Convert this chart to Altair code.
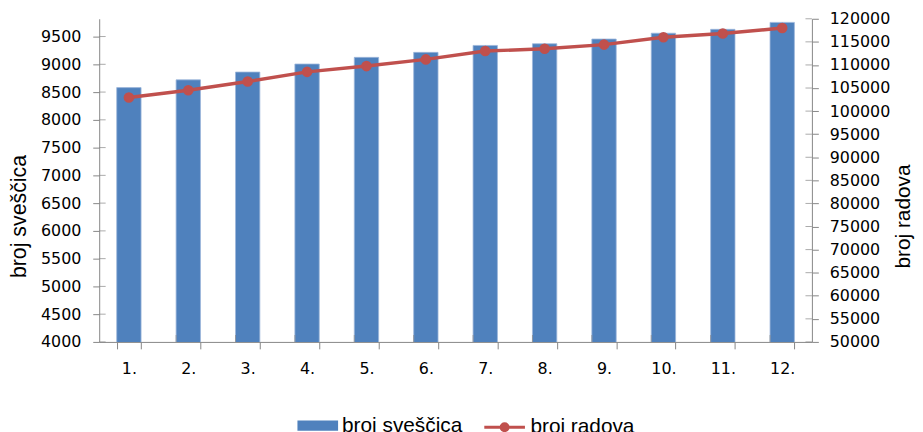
import altair as alt
import pandas as pd

# ---- data ----
cats = ["1.", "2.", "3.", "4.", "5.", "6.", "7.", "8.", "9.", "10.", "11.", "12."]
svescica = [8580, 8720, 8860, 9005, 9125, 9215, 9340, 9370, 9455, 9560, 9630, 9755]
radova = [102950, 104500, 106400, 108500, 109750, 111200, 113000, 113500, 114400, 116000, 116800, 118000]
series_names = ["broj sveščica", "broj radova"]
left_ticks = list(range(4000, 10000, 500))
right_ticks = list(range(50000, 125000, 5000))

df = pd.DataFrame({"k": cats, "s": svescica, "r": radova,
                   "n1": series_names[0], "n2": series_names[1]})
lt_df = pd.DataFrame({"v": left_ticks})
rt_df = pd.DataFrame({"v": right_ticks})
xt_df = pd.DataFrame({"k": cats[1:]})

FONT_NUM = "DejaVu Sans"
FONT_TXT = "Liberation Sans"
AX = "#868686"
BLUE = "#4F81BD"
RED = "#C0504D"
W, H = 719, 326

left_scale = alt.Scale(domain=[4000, 9820], nice=False, zero=False)
right_scale = alt.Scale(domain=[50000, 120000], nice=False, zero=False)
x_scale = alt.Scale(paddingInner=0.59, paddingOuter=0.295)

x_axis = alt.Axis(tickBand="extent", labelAngle=0, domainColor=AX, tickColor=AX,
                  tickSize=7, labelPadding=12, labelFont=FONT_NUM, labelFontSize=16,
                  labelColor="#000000", grid=False)
left_axis = alt.Axis(values=left_ticks, format="d", grid=False, domainColor=AX, tickColor=AX,
                     tickSize=6.5, labelPadding=12, labelFont=FONT_NUM, labelFontSize=16,
                     labelColor="#000000", title="broj sveščica", titleFont=FONT_TXT,
                     titleFontSize=21.5, titleFontWeight="normal", titleColor="#000000",
                     titleX=-80, titleY=199, titleAlign="center", titleBaseline="middle",
                     titleAngle=270)
right_axis = alt.Axis(orient="right", values=right_ticks, format="d", grid=False, domainColor=AX,
                      tickColor=AX, tickSize=6.5, labelPadding=11, labelFont=FONT_NUM,
                      labelFontSize=16, labelColor="#000000", title="broj radova",
                      titleFont=FONT_TXT, titleFontSize=21, titleFontWeight="normal",
                      titleColor="#000000", titleX=92, titleY=199, titleAlign="center",
                      titleBaseline="middle", titleAngle=270)

bars = alt.Chart(df).mark_bar(stroke="#9DB6DA", strokeWidth=0.8, clip=True).encode(
    x=alt.X("k:N", sort=cats, title=None, scale=x_scale, axis=x_axis),
    y=alt.Y("s:Q", scale=left_scale, axis=left_axis, title="broj sveščica"),
    fill=alt.Fill("n1:N", scale=alt.Scale(domain=[series_names[0]], range=[BLUE]),
                  legend=alt.Legend(orient="none", legendX=200, legendY=390, title=None,
                                    symbolType="M-1,-0.25H1V0.25H-1Z", symbolSize=1681,
                                    symbolStrokeWidth=0, labelFont=FONT_TXT, labelFontSize=21,
                                    labelColor="#000000", labelOffset=4, padding=0)),
)

# inner halves of the crossing tick marks (Excel "cross" ticks)
left_in = alt.Chart(lt_df).mark_tick(orient="horizontal", size=6.5, thickness=1, color=AX).encode(
    y=alt.Y("v:Q", scale=left_scale, axis=left_axis, title="broj sveščica"), x=alt.value(3.25))
x_in = alt.Chart(xt_df).mark_tick(orient="vertical", size=7, thickness=1, color=AX).encode(
    x=alt.X("k:N", sort=cats, bandPosition=0, scale=x_scale, axis=x_axis, title=None),
    y=alt.value(H - 3.5))

line = alt.Chart(df).mark_line(strokeWidth=3.5, point=alt.OverlayMarkDef(filled=True, size=75, color=RED)).encode(
    x=alt.X("k:N", sort=cats, scale=x_scale, axis=x_axis, title=None),
    y=alt.Y("r:Q", scale=right_scale, axis=right_axis, title="broj radova"),
    stroke=alt.Stroke("n2:N", scale=alt.Scale(domain=[series_names[1]], range=[RED]),
                      legend=alt.Legend(orient="none", legendX=387, legendY=390, title=None,
                                        symbolType="M-1,0H1M-0.17,0A0.17,0.17 0 1 1 0.17,0A0.17,0.17 0 1 1 -0.17,0Z",
                                        symbolSize=1681, symbolStrokeWidth=3,
                                        symbolFillColor=RED, labelFont=FONT_TXT,
                                        labelFontSize=21, labelColor="#000000",
                                        labelOffset=4, padding=0)),
)

right_in = alt.Chart(rt_df).mark_tick(orient="horizontal", size=6.5, thickness=1, color=AX).encode(
    y=alt.Y("v:Q", scale=right_scale, axis=right_axis, title="broj radova"), x=alt.value(W - 3.25))

left_group = alt.layer(bars, left_in, x_in)
right_group = alt.layer(line, right_in)

chart = alt.layer(left_group, right_group).resolve_scale(
    y="independent", fill="independent", stroke="independent"
).properties(
    width=W, height=H,
    autosize=alt.AutoSizeParams(type="none"),
    padding={"left": 92, "top": 9, "right": 104, "bottom": 89},
    background="white",
).configure_view(stroke=None)

chart.save("out.html", embed_options={"renderer": "svg", "actions": False})
